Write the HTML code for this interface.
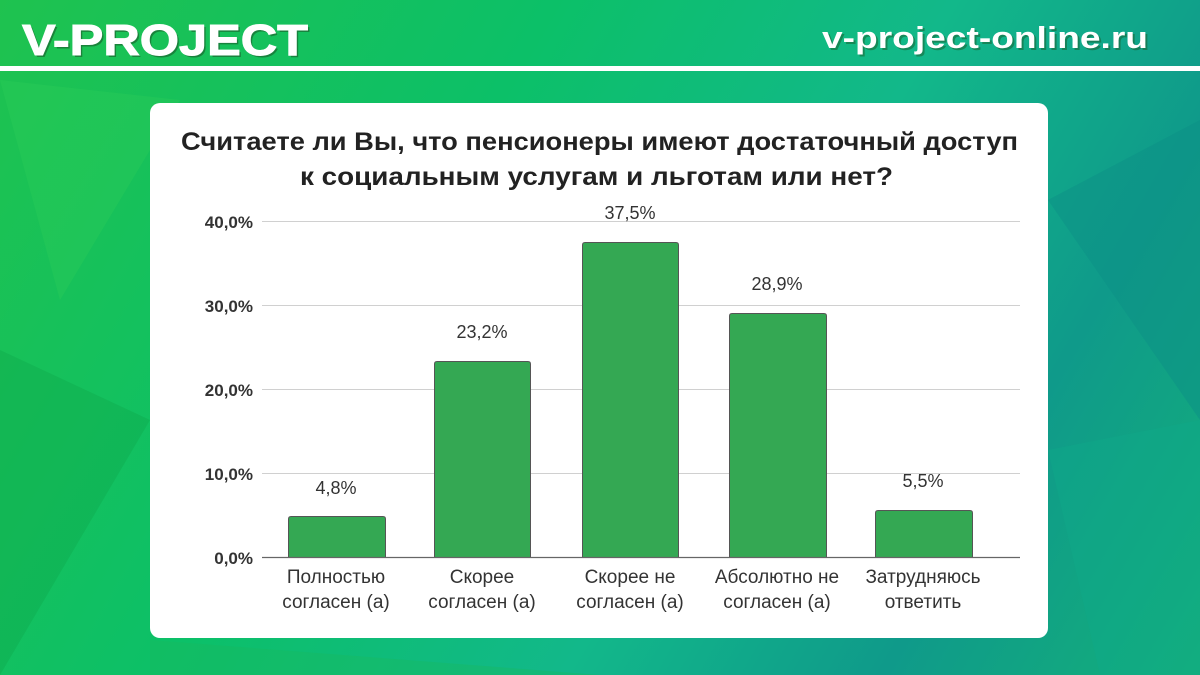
<!DOCTYPE html>
<html><head><meta charset="utf-8"><style>
body{margin:0;width:1200px;height:675px;overflow:hidden;font-family:"Liberation Sans",sans-serif;}
.bg{position:absolute;left:0;top:0;width:1200px;height:675px;background:linear-gradient(120deg,#1fc24f 0%,#0cc068 35%,#12b88a 60%,#0f9a8a 80%,#14b07a 100%);}
.panel{position:absolute;left:150px;top:103px;width:898px;height:535px;background:#fff;border-radius:10px;}
</style></head><body>
<div class="bg"></div>
<svg width="1200" height="675" style="position:absolute;left:0;top:0">
<polygon points="0,80 180,100 60,300" fill="#2fcf5a" opacity=".35"/>
<polygon points="0,350 150,420 0,675" fill="#0ea84a" opacity=".4"/>
<polygon points="1048,200 1200,120 1200,420" fill="#0b8f86" opacity=".5"/>
<polygon points="1048,450 1200,420 1200,675 1100,675" fill="#10a98a" opacity=".4"/>
<polygon points="150,640 600,675 150,675" fill="#18b860" opacity=".4"/>
<text x="24" y="57" font-family="Liberation Sans" font-weight="bold" font-size="44" fill="#1a5a2a" opacity=".6" textLength="286" lengthAdjust="spacingAndGlyphs">V-PROJECT</text>
<text x="22" y="55" font-family="Liberation Sans" font-weight="bold" font-size="44" fill="#fff" stroke="#fff" stroke-width="1" textLength="286" lengthAdjust="spacingAndGlyphs">V-PROJECT</text>
<text x="824" y="50" font-family="Liberation Sans" font-weight="bold" font-size="31" fill="#1a5a2a" opacity=".5" textLength="326" lengthAdjust="spacingAndGlyphs">v-project-online.ru</text>
<text x="822" y="48" font-family="Liberation Sans" font-weight="bold" font-size="31" fill="#fff" textLength="326" lengthAdjust="spacingAndGlyphs">v-project-online.ru</text>
<rect x="0" y="66" width="1200" height="5" fill="#fff"/>
</svg>
<div class="panel"></div>
<svg width="1200" height="675" style="position:absolute;left:0;top:0" font-family="Liberation Sans">
<text x="181" y="150" font-weight="bold" font-size="25" fill="#222" textLength="837" lengthAdjust="spacingAndGlyphs">Считаете ли Вы, что пенсионеры имеют достаточный доступ</text>
<text x="300" y="185" font-weight="bold" font-size="25" fill="#222" textLength="593" lengthAdjust="spacingAndGlyphs">к социальным услугам и льготам или нет?</text>
<g stroke="#d0d0d0" stroke-width="1">
<line x1="262" y1="221.5" x2="1020" y2="221.5"/><line x1="262" y1="305.5" x2="1020" y2="305.5"/>
<line x1="262" y1="389.5" x2="1020" y2="389.5"/><line x1="262" y1="473.5" x2="1020" y2="473.5"/>
</g>
<g font-size="17" fill="#333" text-anchor="end" font-weight="bold">
<text x="253" y="228">40,0%</text><text x="253" y="312">30,0%</text><text x="253" y="396">20,0%</text><text x="253" y="480">10,0%</text><text x="253" y="564">0,0%</text>
</g>
<g fill="#34a853" stroke="#555" stroke-width="1">
<path d="M288.5,557 V519 Q288.5,516.5 291,516.5 H383 Q385.5,516.5 385.5,519 V557"/>
<path d="M434.5,557 V364 Q434.5,361.5 437,361.5 H528 Q530.5,361.5 530.5,364 V557"/>
<path d="M582.5,557 V245 Q582.5,242.5 585,242.5 H676 Q678.5,242.5 678.5,245 V557"/>
<path d="M729.5,557 V316 Q729.5,313.5 732,313.5 H824 Q826.5,313.5 826.5,316 V557"/>
<path d="M875.5,557 V513 Q875.5,510.5 878,510.5 H970 Q972.5,510.5 972.5,513 V557"/>
</g>
<line x1="262" y1="557.5" x2="1020" y2="557.5" stroke="#666" stroke-width="1.2"/>
<g font-size="18" fill="#333" text-anchor="middle">
<text x="336" y="494">4,8%</text><text x="482" y="338">23,2%</text><text x="630" y="219">37,5%</text><text x="777" y="290">28,9%</text><text x="923" y="487">5,5%</text>
</g>
<g font-size="19" fill="#333" text-anchor="middle">
<text x="336" y="583">Полностью</text><text x="336" y="608">согласен (а)</text>
<text x="482" y="583">Скорее</text><text x="482" y="608">согласен (а)</text>
<text x="630" y="583">Скорее не</text><text x="630" y="608">согласен (а)</text>
<text x="777" y="583">Абсолютно не</text><text x="777" y="608">согласен (а)</text>
<text x="923" y="583">Затрудняюсь</text><text x="923" y="608">ответить</text>
</g>
</svg>
</body></html>
